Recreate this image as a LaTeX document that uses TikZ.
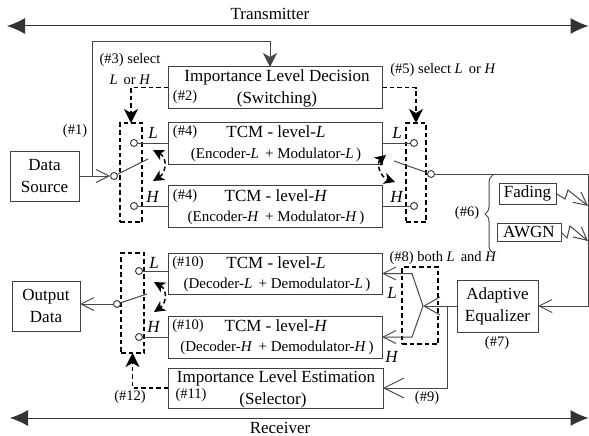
\documentclass[tikz,border=0pt]{standalone}
\usepackage{fontspec}
\setmainfont{Liberation Serif}
\usetikzlibrary{arrows.meta,decorations.pathreplacing}
\begin{document}
\begin{tikzpicture}[x=1pt,y=-1pt,
  box/.style={draw=black!75, line width=1pt, inner sep=0pt, outer sep=0pt, rectangle},
  ln/.style={draw=black!72, line width=1pt},
  dsh/.style={draw=black, line width=1.5pt, dash pattern=on 4.5pt off 3pt},
  swbox/.style={dsh, rectangle, inner sep=0pt, outer sep=0pt},
  sw/.style={circle, draw=black!80, line width=0.9pt, fill=white, minimum size=7pt, inner sep=0pt},
  big/.style={font=\fontsize{17}{22}\selectfont, inner sep=0pt},
  mid/.style={font=\fontsize{15}{18}\selectfont, inner sep=0pt},
  sm/.style={font=\fontsize{14.5}{18}\selectfont, inner sep=0pt},
  barb/.style={-{Straight Barb[length=13pt,width=13pt,line width=1pt]}},
  bigbarb/.style={-{Straight Barb[length=16pt,width=18pt,line width=1pt]}},
  fill arrow/.style={-{Stealth[length=14pt,width=14pt,inset=4pt]}},
  sw arrows/.style={{Stealth[length=11pt,width=11pt,inset=3pt]}-{Stealth[length=11pt,width=11pt,inset=3pt]}},
  bigline/.style={line width=1pt, draw=black!80, {Latex[length=18pt,width=16pt]}-{Latex[length=18pt,width=16pt]}}
]
\useasboundingbox (0,0) rectangle (589,436);

% ---- boxes ----
\node[box, minimum width=214pt, minimum height=41pt] (dec) at (275,87.5) {};
\node[box, minimum width=214pt, minimum height=42pt] (tcmL) at (275,143) {};
\node[box, minimum width=214pt, minimum height=42pt] (tcmH) at (275,206) {};
\node[box, minimum width=214pt, minimum height=41pt] (dcmL) at (275,273.5) {};
\node[box, minimum width=214pt, minimum height=42pt] (dcmH) at (275,337) {};
\node[box, minimum width=215pt, minimum height=40pt] (est) at (275.5,388) {};
\node[box, minimum width=69pt, minimum height=50pt, align=center, big] (src) at (44.5,176) {Data\\Source};
\node[box, minimum width=68pt, minimum height=50pt, align=center, big] (out) at (46,306) {Output\\Data};
\node[box, minimum width=81pt, minimum height=52pt, align=center, big] (eq) at (497.5,306) {Adaptive\\Equalizer};
\node[box, minimum width=57pt, minimum height=21pt, big] (fad) at (527.5,193.5) {Fading};
\node[box, minimum width=64pt, minimum height=18pt, big] (awgn) at (529,232) {AWGN};

% ---- dashed switch boxes ----
\node[swbox, minimum width=22pt, minimum height=99pt] (sw1) at (131,172.5) {};
\node[swbox, minimum width=20pt, minimum height=99pt] (sw2) at (416,172.5) {};
\node[swbox, minimum width=23pt, minimum height=100pt] (sw3) at (132.5,303) {};
\node[swbox, minimum width=36pt, minimum height=77pt] (fbox) at (420,305.5) {};

% ---- switch contacts ----
\node[sw] (c1L) at (134,143) {};
\node[sw] (c1H) at (134,206) {};
\node[sw] (c1P) at (114,176) {};
\node[sw] (c2L) at (414,143) {};
\node[sw] (c2H) at (414,206) {};
\node[sw] (c2P) at (431,174) {};
\node[sw] (c3L) at (139,271) {};
\node[sw] (c3H) at (139,337) {};
\node[sw] (c3P) at (117,304) {};

% ---- helper coordinates ----
\coordinate (j1) at (92,176);
\coordinate (k1) at (270,42);
\coordinate (b1) at (148,159);
\coordinate (b2) at (394,161);
\coordinate (b3) at (147,294);
\coordinate (rt) at (588,174);
\coordinate (fk) at (423,306);
\coordinate (fu) at (412,273.5);
\coordinate (fd) at (412,337);
\coordinate (br) at (447,306);
\coordinate (tl) at (7,26);
\coordinate (tr) at (588.5,26);
\coordinate (rl) at (10,418);
\coordinate (rr) at (588.5,418);

% ---- transmitter / receiver arrows ----
\draw[bigline] (tl) -- (tr);
\draw[bigline] (rl) -- (rr);

% ---- transmitter connectors ----
\draw[ln, barb] (src.east |- c1P) -- (c1P);
\draw[ln, fill arrow] (j1) |- (k1) -- (k1 |- dec.north);
\draw[ln] (c1L) -- (c1L -| tcmL.west);
\draw[ln] (c1H) -- (c1H -| tcmH.west);
\draw[ln] (c1P) -- (b1);
\draw[ln] (tcmL.east |- c2L) -- (c2L);
\draw[ln] (tcmH.east |- c2H) -- (c2H);
\draw[ln] (c2P) -- (b2);
\draw[ln, barb] (c2P) -- (rt) |- (eq.east);
\draw[dsh, fill arrow] (dec.west) -| (sw1.north);
\draw[dsh, fill arrow] (dec.east) -| (sw2.north);
\draw[dsh, sw arrows] (153,150) .. controls (168,158) and (166,173) .. (153,181);
\draw[dsh, sw arrows] (386,155) .. controls (376,163) and (380,177) .. (395,182);

% ---- channel ----
\draw[ln, barb] (fad.east) -- (565,199) -- (568,190) -- (588,206);
\draw[ln, barb] (awgn.east) -- (567,238) -- (570,226) -- (588,241);
\draw[ln, decorate, decoration={brace, amplitude=8pt}] (493,253) -- (493,175);

% ---- receiver connectors ----
\draw[ln, bigbarb] (eq.west) -- (fk);
\draw[ln, barb] (fk) -- (fu) -- (dcmL.east);
\draw[ln, barb] (fk) -- (fd) -- (dcmH.east);
\draw[ln, -{Straight Barb[length=20pt,width=20pt,line width=1pt]}] (br) |- (est.east);
\draw[ln, barb] (c3P) -- (out.east |- c3P);
\draw[ln] (c3L) -- (c3L -| dcmL.west);
\draw[ln] (c3H) -- (c3H -| dcmH.west);
\draw[ln] (c3P) -- (b3);
\draw[dsh, fill arrow] (est.west) -| (sw3.south);
\draw[dsh, sw arrows] (154,282) .. controls (168,290) and (166,304) .. (154,312);

% ---- texts ----
\node[big] at (270,14) {Transmitter};
\node[big] at (280,428) {Receiver};
\node[sm] at (75,131) {(\#1)};
\node[sm] at (130,60) {(\#3) select};
\node[sm] at (130,80) {\textit{L}\, or \textit{H}};
\node[big] at (277,77) {Importance Level Decision};
\node[big] at (277,99) {(Switching)};
\node[sm] at (185,97) {(\#2)};
\node[sm] at (443,70) {(\#5) select \textit{L}\, or \textit{H}};

\node[big] at (153,133) {\textit{L}};
\node[big] at (153,197) {\textit{H}};
\node[big] at (397,133) {\textit{L}};
\node[big] at (397,197) {\textit{H}};

\node[sm] at (185,132) {(\#4)};
\node[big] at (276,132) {TCM - level-\textit{L}};
\node[mid] at (276,155) {(Encoder-\textit{L}\, + Modulator-\textit{L}\,)};
\node[sm] at (185,196) {(\#4)};
\node[big] at (276,196) {TCM - level-\textit{H}};
\node[mid] at (276,218) {(Encoder-\textit{H}\, + Modulator-\textit{H}\,)};

\node[sm] at (467,213) {(\#6)};
\node[sm] at (443,258) {(\#8) both \textit{L}\, and \textit{H}};
\node[big] at (392,293) {\textit{L}};
\node[big] at (392,357) {\textit{H}};
\node[sm] at (497,343) {(\#7)};
\node[sm] at (427,398) {(\#9)};

\node[big] at (154,263) {\textit{L}};
\node[big] at (154,327) {\textit{H}};
\node[sm] at (188,263) {(\#10)};
\node[big] at (276,263) {TCM - level-\textit{L}};
\node[mid] at (277,285) {(Decoder-\textit{L}\, + Demodulator-\textit{L}\,)};
\node[sm] at (188,326) {(\#10)};
\node[big] at (276,326) {TCM - level-\textit{H}};
\node[mid] at (277,348) {(Decoder-\textit{H}\, + Demodulator-\textit{H}\,)};

\node[big] at (276,378) {Importance Level Estimation};
\node[big] at (273,400) {(Selector)};
\node[sm] at (191,395) {(\#11)};
\node[sm] at (130,397) {(\#12)};
\end{tikzpicture}
\end{document}
